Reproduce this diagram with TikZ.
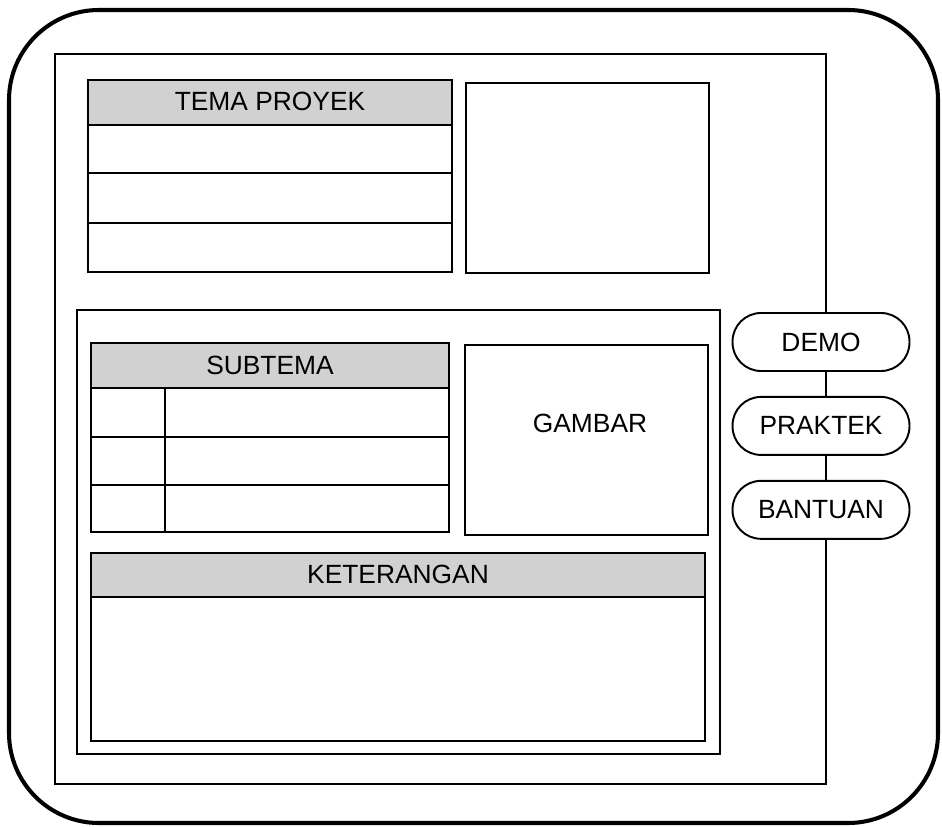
\documentclass[tikz,border=0pt]{standalone}
\usepackage{fontspec}
\setmainfont{Liberation Sans}
\usetikzlibrary{positioning}

\tikzset{
  panel/.style={draw, line width=1.1pt},
  header/.style={draw, line width=1.1pt, fill=black!18},
  headtext/.style={font=\fontsize{15}{18}\selectfont},
  button/.style={draw, line width=1.1pt, fill=white, rounded corners=0.57cm,
    minimum width=3.54cm, minimum height=1.16cm, font=\fontsize{15}{18}\selectfont},
}

\begin{document}
\begin{tikzpicture}[x=0.02cm, y=-0.02cm]
  \useasboundingbox (0,0) rectangle (942,827);
  % outer frame
  \draw[line width=2.3pt, rounded corners=1.8cm] (9,10) rectangle (938,823);
  \draw[line width=0.8pt] (55,54) rectangle (826,784);
  % tema proyek
  \draw[header] (88,80) rectangle (452,125);
  \node[headtext] (tema) at (270,101) {TEMA PROYEK};
  \draw[panel] (88,125) rectangle (452,272);
  \draw[panel] (88,173) -- (452,173);
  \draw[panel] (88,223) -- (452,223);
  \draw[panel] (466,83) rectangle (709,273);
  % middle panel
  \draw[line width=0.9pt] (77,310) rectangle (720,754);
  % subtema
  \draw[header] (91,343) rectangle (449,388);
  \node[headtext] (subtema) at (270,365) {SUBTEMA};
  \draw[panel] (91,388) rectangle (449,532);
  \draw[panel] (91,437) -- (449,437);
  \draw[panel] (91,485) -- (449,485);
  \draw[panel] (165,388) -- (165,532);
  % gambar
  \draw[panel] (465,345) rectangle (708,535);
  \node[headtext] (gambar) at (590,423) {GAMBAR};
  % keterangan
  \draw[header] (91,553) rectangle (705,597);
  \node[headtext] (ket) at (398,574) {KETERANGAN};
  \draw[panel] (91,597) rectangle (705,741);
  % buttons
  \node[button] (demo) at (821,342) {DEMO};
  \node[button, below=0.48cm of demo] (praktek) {PRAKTEK};
  \node[button, below=0.48cm of praktek] (bantuan) {BANTUAN};
\end{tikzpicture}
\end{document}
